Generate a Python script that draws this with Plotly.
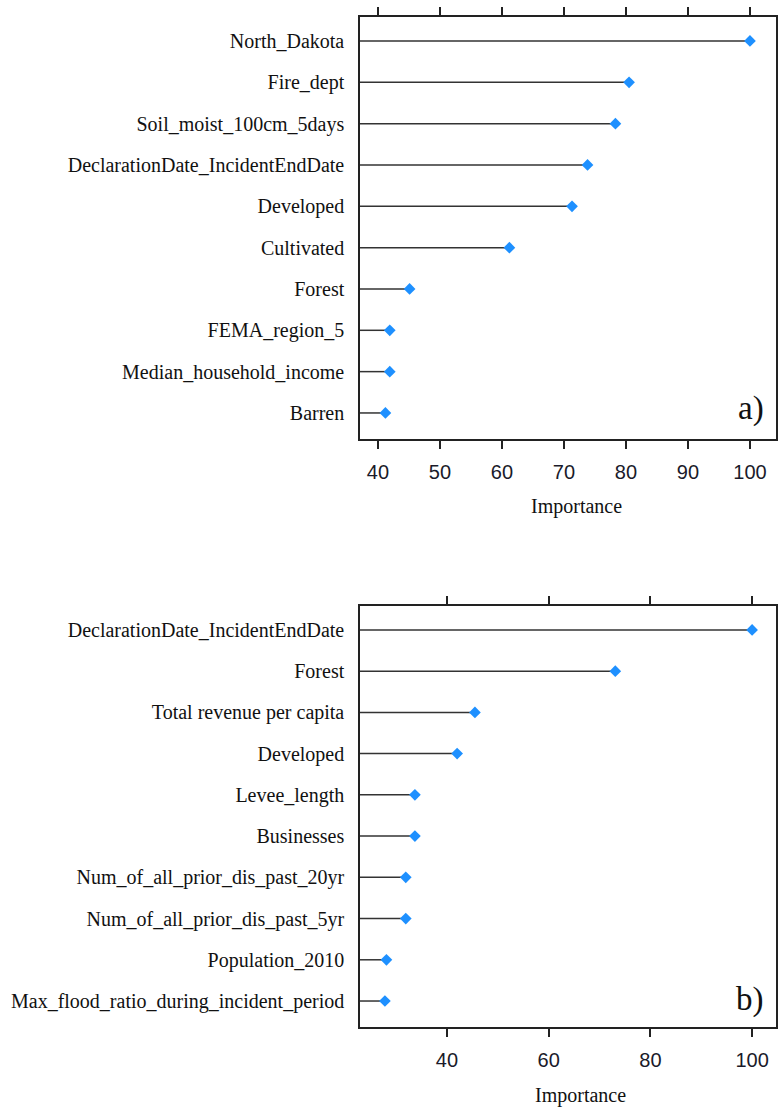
import plotly.graph_objects as go

# Panel a)
features_a = ["North_Dakota", "Fire_dept", "Soil_moist_100cm_5days",
              "DeclarationDate_IncidentEndDate", "Developed", "Cultivated",
              "Forest", "FEMA_region_5", "Median_household_income", "Barren"]
importance_a = [100.0, 80.5, 78.3, 73.8, 71.3, 61.2, 45.1, 41.9, 41.9, 41.2]
ticks_a = [40, 50, 60, 70, 80, 90, 100]

# Panel b)
features_b = ["DeclarationDate_IncidentEndDate", "Forest", "Total revenue per capita",
              "Developed", "Levee_length", "Businesses",
              "Num_of_all_prior_dis_past_20yr", "Num_of_all_prior_dis_past_5yr",
              "Population_2010", "Max_flood_ratio_during_incident_period"]
importance_b = [100.0, 73.1, 45.5, 42.0, 33.7, 33.7, 31.9, 31.9, 28.1, 27.8]
ticks_b = [40, 60, 80, 100]

XR_A = [37.1, 104.2]
XR_B = [22.9, 104.7]

SERIF = "Liberation Serif, Times New Roman, serif"
SANS = "Liberation Sans, Arial, sans-serif"
LINE_C = "#333333"
DOT_C = "#1E90FF"

fig = go.Figure()

def add_panel(feats, vals, x0, xa, ya):
    xs, ys = [], []
    for f, v in zip(feats, vals):
        xs += [x0, v, None]
        ys += [f, f, None]
    fig.add_trace(go.Scatter(x=xs, y=ys, mode="lines",
                             line=dict(color=LINE_C, width=1.5),
                             xaxis=xa, yaxis=ya, hoverinfo="skip", showlegend=False))
    fig.add_trace(go.Scatter(x=vals, y=feats, mode="markers",
                             marker=dict(symbol="diamond", color=DOT_C, size=9),
                             xaxis=xa, yaxis=ya, showlegend=False))

add_panel(features_a, importance_a, XR_A[0], "x", "y")
add_panel(features_b, importance_b, XR_B[0], "x2", "y2")

common_x = dict(showline=True, linecolor="#222", linewidth=1.5, mirror="ticks",
                ticks="outside", ticklen=8, tickwidth=1.5, tickcolor="#222",
                showgrid=False, zeroline=False,
                tickfont=dict(family=SANS, size=20, color="#1a1a2a"),
                ticklabelstandoff=6)
common_y = dict(showline=True, linecolor="#222", linewidth=1.5, mirror=True,
                ticks="", showgrid=False, zeroline=False, type="category",
                tickfont=dict(family=SERIF, size=20, color="#111"),
                ticklabelstandoff=10)

H = 1107
top_a, bot_a = 17, 439
top_b, bot_b = 606, 1027
mt, mb = 17, H - 1027
ph = H - mt - mb
def frac(y):
    return (H - mb - y) / ph

def ann(text, x_px, y_px, size):
    return dict(text=text, xref="paper", yref="paper",
                x=(x_px - 360) / 418, y=frac(y_px),
                xanchor="center", yanchor="middle", showarrow=False,
                font=dict(family=SERIF, size=size, color="#111"))

fig.update_layout(
    width=783, height=H,
    margin=dict(l=360, r=5, t=mt, b=mb),
    plot_bgcolor="white", paper_bgcolor="white",
    xaxis=dict(common_x, range=XR_A, tickvals=ticks_a, anchor="y",
               domain=[0, 1]),
    yaxis=dict(common_y, range=[9.63, -0.58], domain=[frac(bot_a), frac(top_a)],
               anchor="x", categoryorder="array", categoryarray=features_a),
    xaxis2=dict(common_x, range=XR_B, tickvals=ticks_b, anchor="y2",
                domain=[0, 1]),
    yaxis2=dict(common_y, range=[9.63, -0.58], domain=[frac(bot_b), frac(top_b)],
                anchor="x2", categoryorder="array", categoryarray=features_b),
    annotations=[
        ann("Importance", 578, 506, 20),
        ann("Importance", 582, 1095, 20),
        ann("a)", 753, 408, 33),
        ann("b)", 752, 999, 33),
    ],
)

fig.write_html("out.html")
